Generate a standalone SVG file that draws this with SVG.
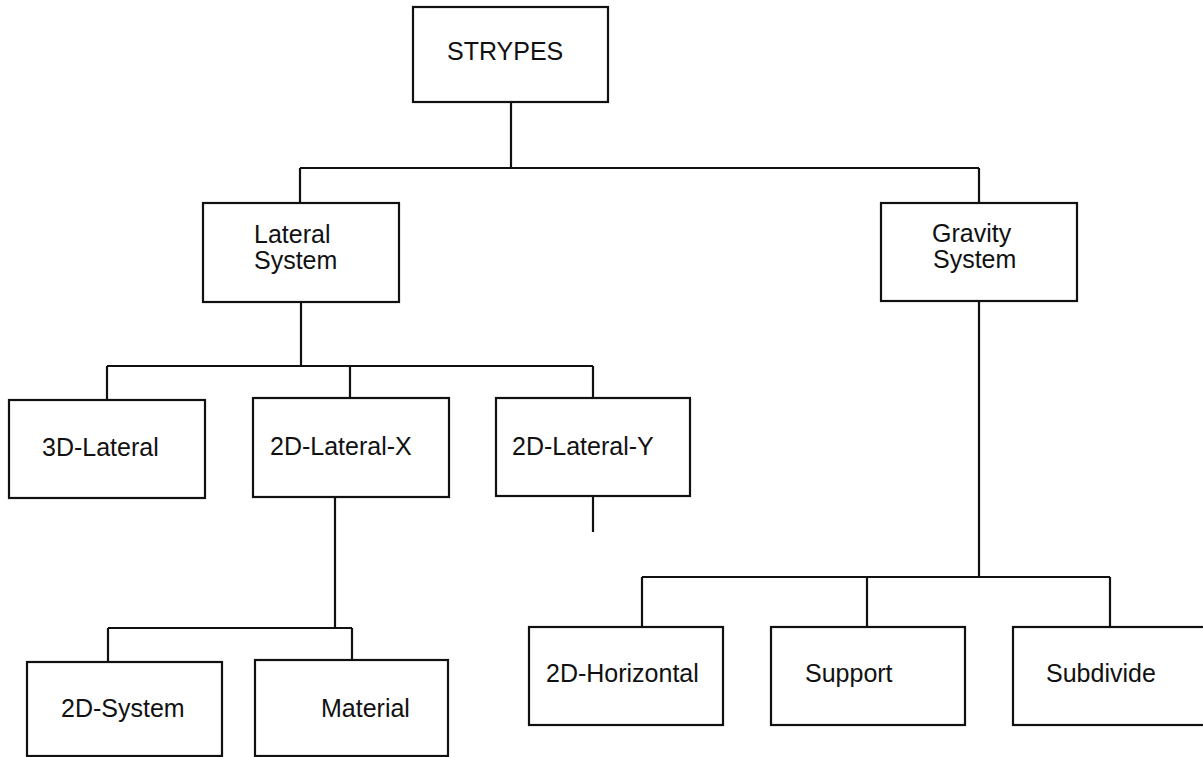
<svg xmlns="http://www.w3.org/2000/svg" width="1203" height="757" viewBox="0 0 1203 757">
<style>
.box{fill:#fff;stroke:#111;stroke-width:2.2}
.t{font-family:"Liberation Sans",Arial,sans-serif;font-size:25px;fill:#111}
.c{fill:none;stroke:#111;stroke-width:2.2}
</style>
<rect width="1203" height="757" fill="#fff"/>
<g id="connectors">
<path class="c" d="M511 102V168M300 168H979M300 168V203M979 168V203"/>
<path class="c" d="M301 302V366M107 366H593M107 366V400M350 366V398M593 366V398"/>
<path class="c" d="M335 497V628M108 628H352M108 628V662M352 628V660"/>
<path class="c" d="M593 496V532"/>
<path class="c" d="M979 301V577M642 577H1110M642 577V627M867 577V627M1110 577V627"/>
</g>
<g id="strypes"><rect class="box" x="413" y="7" width="195" height="95"/><text class="t" x="447" y="60">STRYPES</text></g>
<g id="lateral"><rect class="box" x="203" y="203" width="196" height="99"/><text class="t" x="254" y="243">Lateral</text><text class="t" x="254" y="269">System</text></g>
<g id="gravity"><rect class="box" x="881" y="203" width="196" height="98"/><text class="t" x="932" y="242">Gravity</text><text class="t" x="933" y="268">System</text></g>
<g id="lat3d"><rect class="box" x="9" y="400" width="196" height="98"/><text class="t" x="42" y="456">3D-Lateral</text></g>
<g id="lat2dx"><rect class="box" x="253" y="398" width="196" height="99"/><text class="t" x="270" y="455">2D-Lateral-X</text></g>
<g id="lat2dy"><rect class="box" x="496" y="398" width="194" height="98"/><text class="t" x="512" y="455">2D-Lateral-Y</text></g>
<g id="sys2d"><rect class="box" x="27" y="662" width="195" height="94"/><text class="t" x="61" y="717">2D-System</text></g>
<g id="material"><rect class="box" x="255" y="660" width="193" height="96"/><text class="t" x="321" y="717">Material</text></g>
<g id="horiz2d"><rect class="box" x="529" y="627" width="194" height="98"/><text class="t" x="546" y="682">2D-Horizontal</text></g>
<g id="support"><rect class="box" x="771" y="627" width="194" height="98"/><text class="t" x="805" y="682">Support</text></g>
<g id="subdivide"><rect class="box" x="1013" y="627" width="200" height="98"/><text class="t" x="1046" y="682">Subdivide</text></g>
</svg>
